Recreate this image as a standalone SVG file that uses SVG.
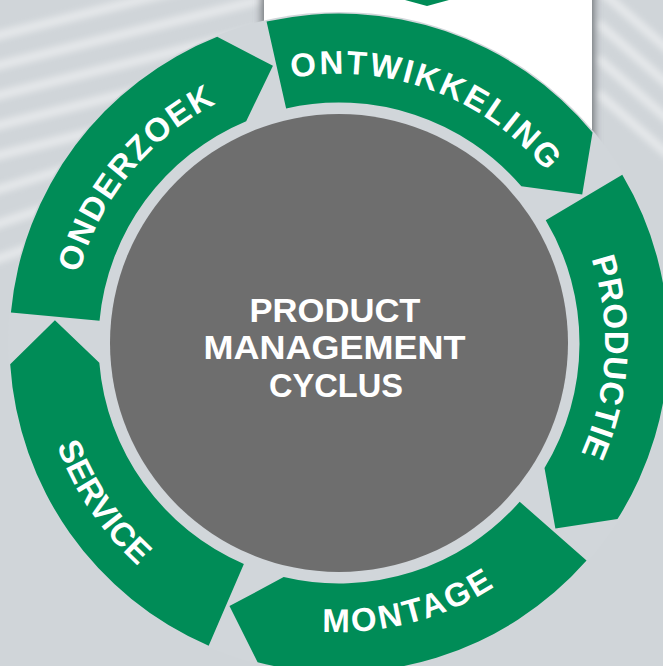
<svg xmlns="http://www.w3.org/2000/svg" width="663" height="666" viewBox="0 0 663 666">
  <defs>
    <style>
      .seg { fill: #008c57; }
      .lbl { font-family: "Liberation Sans", Arial, sans-serif; font-weight: bold; fill: #ffffff; font-size: 33px; }
      .ctr { font-family: "Liberation Sans", Arial, sans-serif; font-weight: bold; fill: #ffffff; font-size: 33.5px; text-anchor: middle; }
      .streak { stroke: #ffffff; stroke-width: 9; fill: none; stroke-linecap: round; }
    </style>
    <filter id="blur" x="-20%" y="-20%" width="140%" height="140%">
      <feGaussianBlur stdDeviation="3"/>
    </filter>
    <filter id="shadow" x="-10%" y="-10%" width="120%" height="120%">
      <feGaussianBlur stdDeviation="4"/>
    </filter>
    <path id="p-onderzoek" d="M135.68,519.12 A269,269 0 0 1 469.83,107.96"/>
    <path id="p-ontwikkeling" d="M107.10,206.67 A269,269 0 0 1 603.54,391.79"/>
    <path id="p-productie" d="M399.29,83.92 A266,266 0 0 1 370.96,607.07"/>
    <path id="p-montage" d="M76.74,464.41 A289,289 0 0 0 626.97,318.62"/>
    <path id="p-service" d="M130.60,127.20 A300,300 0 0 0 461.02,617.07"/>
  </defs>

  <!-- background -->
  <rect x="0" y="0" width="663" height="666" fill="#d0d5d9"/>
  <g id="streaks" filter="url(#blur)" opacity="0.45">
    <line class="streak" x1="-20" y1="40" x2="300" y2="-40"/>
    <line class="streak" x1="-20" y1="70" x2="300" y2="-10"/>
    <line class="streak" x1="-20" y1="100" x2="300" y2="20"/>
    <line class="streak" x1="-20" y1="130" x2="300" y2="50"/>
    <line class="streak" x1="-20" y1="160" x2="300" y2="80"/>
    <line class="streak" x1="-20" y1="195" x2="260" y2="110"/>
    <line class="streak" x1="-20" y1="230" x2="220" y2="150"/>
    <line class="streak" x1="-20" y1="265" x2="180" y2="195"/>
    <line class="streak" x1="600" y1="-10" x2="680" y2="60"/>
    <line class="streak" x1="600" y1="25" x2="680" y2="95"/>
    <line class="streak" x1="600" y1="60" x2="680" y2="130"/>
    <line class="streak" x1="600" y1="95" x2="680" y2="165"/>
  </g>

  <!-- white panel with shadow -->
  <g id="panel">
    <rect x="262" y="-10" width="332" height="190" fill="#6a6e72" filter="url(#shadow)"/>
    <rect x="264" y="-10" width="328" height="190" fill="#ffffff"/>
    <polygon points="405,0 427,6 449,0" fill="#008c57"/>
  </g>

  <!-- disk behind ring -->
  <circle cx="339" cy="343" r="331" fill="#d1d6da"/>

  <g id="connectors"></g>

  <g id="node-onderzoek">
    <path class="seg" d="M10.91,312.56 A329.5,329.5 0 0 1 217.17,36.85 L272.95,65.76 L246.19,121.13 A240.5,240.5 0 0 0 99.53,320.79 Z"/>
    <text class="lbl" letter-spacing="1.7"><textPath href="#p-onderzoek" startOffset="50%" text-anchor="middle">ONDERZOEK</textPath></text>
  </g>

  <g id="node-ontwikkeling">
    <path class="seg" d="M266.56,21.56 A329.5,329.5 0 0 1 592.52,132.53 L582.22,194.47 L521.33,186.17 A240.5,240.5 0 0 0 286.13,108.39 Z"/>
    <text class="lbl" letter-spacing="2.35"><textPath href="#p-ontwikkeling" startOffset="50%" text-anchor="middle">ONTWIKKELING</textPath></text>
  </g>

  <g id="node-productie">
    <path class="seg" d="M622.27,174.71 A329.5,329.5 0 0 1 617.51,519.07 L555.39,528.47 L544.5,467.94 A240.5,240.5 0 0 0 545.76,220.17 Z"/>
    <text class="lbl" letter-spacing="0.65"><textPath href="#p-productie" startOffset="50%" text-anchor="middle">PRODUCTIE</textPath></text>
  </g>

  <g id="node-montage">
    <path class="seg" d="M586.54,560.47 A329.5,329.5 0 0 1 257.61,662.29 L229.47,606.11 L283.67,577.05 A240.5,240.5 0 0 0 519.68,501.73 Z"/>
    <text class="lbl" letter-spacing="2.45"><textPath href="#p-montage" startOffset="50%" text-anchor="middle">MONTAGE</textPath></text>
  </g>

  <g id="node-service">
    <path class="seg" d="M208.67,645.63 A329.5,329.5 0 0 1 10.19,364.26 L54.92,320.14 L99.31,362.71 A240.5,240.5 0 0 0 243.87,563.89 Z"/>
    <text class="lbl" letter-spacing="0.4"><textPath href="#p-service" startOffset="50%" text-anchor="middle">SERVICE</textPath></text>
  </g>

  <g id="node-center">
    <circle cx="339" cy="343" r="229" fill="#6e6e6e"/>
    <text class="ctr" x="335" y="321.7" textLength="171" lengthAdjust="spacingAndGlyphs">PRODUCT</text>
    <text class="ctr" x="334.5" y="359" textLength="262" lengthAdjust="spacingAndGlyphs">MANAGEMENT</text>
    <text class="ctr" x="336" y="396.7" textLength="134" lengthAdjust="spacingAndGlyphs">CYCLUS</text>
  </g>
</svg>
